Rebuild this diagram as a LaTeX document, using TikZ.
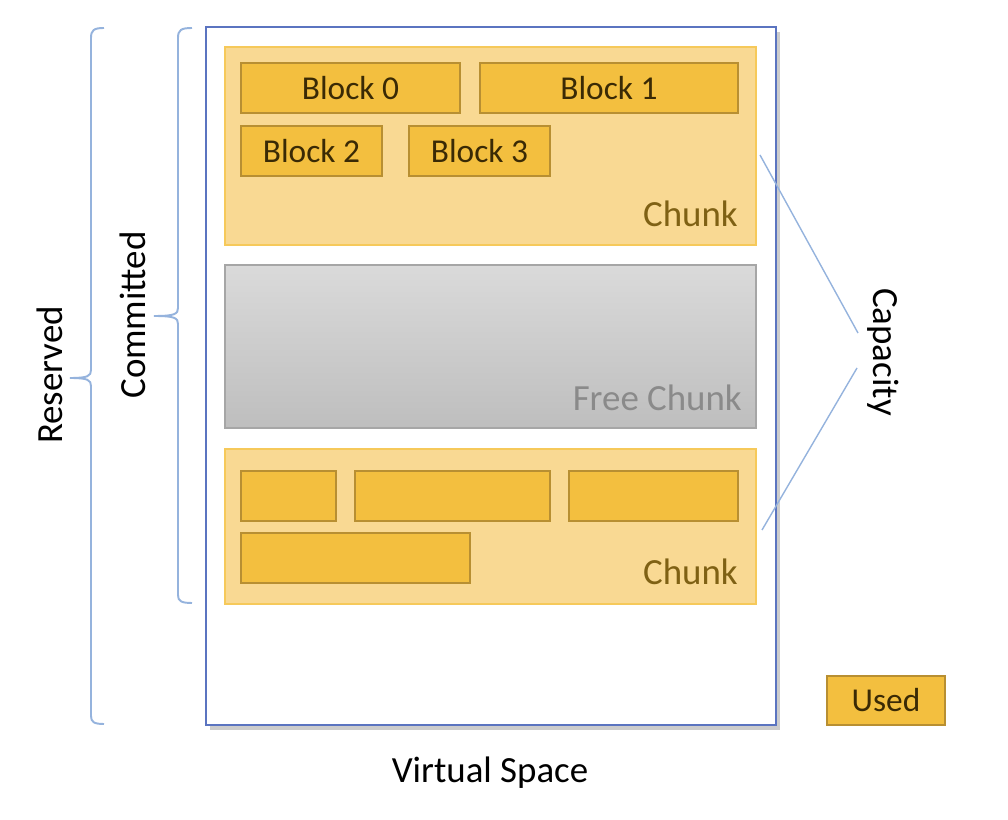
\documentclass[tikz,border=0pt]{standalone}
\usepackage{fontspec}
\setmainfont{Carlito}
\usepackage{tikz}
\usetikzlibrary{positioning}
\usetikzlibrary{shadows}
\definecolor{chunkfill}{HTML}{F9D993}
\definecolor{chunkline}{HTML}{F6C95A}
\definecolor{chunktext}{HTML}{7F6114}
\definecolor{blockfill}{HTML}{F3BF3F}
\definecolor{blockline}{HTML}{B88F32}
\definecolor{blocktext}{HTML}{3A2A05}
\definecolor{freetop}{HTML}{DADADA}
\definecolor{freebottom}{HTML}{BEBEBE}
\definecolor{freeline}{HTML}{A6A6A6}
\definecolor{freetext}{HTML}{8A8A8A}
\definecolor{vsline}{HTML}{5B74C0}
\definecolor{bracecol}{HTML}{95B3DD}
\tikzset{
  chunkbox/.style={draw=chunkline, fill=chunkfill, line width=0.8pt, inner sep=0pt, outer sep=0pt,
    minimum width=10.62cm},
  blockbox/.style={draw=blockline, fill=blockfill, line width=0.7pt, inner sep=0pt, outer sep=0pt,
    minimum height=1cm, text=blocktext, font=\fontsize{19}{22}\selectfont},
  chunklabel/.style={anchor=east, text=chunktext, font=\fontsize{21}{25}\selectfont},
  sidelabel/.style={font=\fontsize{21}{25}\selectfont},
  bracket/.style={draw=bracecol, line width=1.1pt},
}

\begin{document}
\begin{tikzpicture}[x=0.02cm, y=-0.02cm]
\useasboundingbox (0,0) rectangle (1008,820);

% ---------- Virtual space ----------
\node[draw=vsline, fill=white, line width=1.1pt, inner sep=0pt, outer sep=0pt,
  minimum width=11.4cm, minimum height=13.96cm,
  drop shadow={shadow xshift=2.5pt, shadow yshift=-3pt, opacity=0.4}] (vspace) at (491,376) {};
\node[sidelabel] (vslabel) at (490,773) {Virtual Space};

% ---------- Chunk 1 ----------
\node[chunkbox, minimum height=3.96cm] (chunk1) at (490.5,146) {};
\node[blockbox, minimum width=4.38cm] (block0) at (350.5,88) {Block 0};
\node[blockbox, minimum width=5.16cm] (block1) at (609,88) {Block 1};
\node[blockbox, minimum width=2.82cm] (block2) at (311.5,151) {Block 2};
\node[blockbox, minimum width=2.82cm] (block3) at (479.5,151) {Block 3};
\node[chunklabel] (chunk1label) at (744,214) {Chunk};

% ---------- Free chunk ----------
\node[draw=freeline, top color=freetop, bottom color=freebottom, line width=0.8pt,
  inner sep=0pt, outer sep=0pt, minimum width=10.62cm, minimum height=3.26cm] (free) at (490.5,346.5) {};
\node[chunklabel, text=freetext] (freelabel) at (748,398) {Free Chunk};

% ---------- Chunk 2 ----------
\node[chunkbox, minimum height=3.1cm] (chunk2) at (490.5,526.5) {};
\node[blockbox, minimum width=1.9cm] (block4) at (288.5,496) {};
\node[blockbox, minimum width=3.9cm] (block5) at (452.5,496) {};
\node[blockbox, minimum width=3.38cm] (block6) at (653.5,496) {};
\node[blockbox, minimum width=4.58cm] (block7) at (355.5,558) {};
\node[chunklabel] (chunk2label) at (744,572) {Chunk};

% ---------- Legend ----------
\node[blockbox, minimum width=2.36cm, minimum height=0.98cm] (used) at (886,700.5) {Used};

% ---------- Brackets ----------
\coordinate (restop) at (104,28);
\coordinate (resmid) at (70,378);
\coordinate (resbot) at (104,724);
\draw[bracket] (restop) .. controls (94,28) and (91,30) .. (91,38) -- (91,370)
  .. controls (91,376) and (88,378) .. (resmid);
\draw[bracket] (resmid) .. controls (88,378) and (91,380) .. (91,386) -- (91,716)
  .. controls (91,722) and (94,724) .. (resbot);
\node[sidelabel, rotate=90] (reserved) at (50,375) {Reserved};

\coordinate (comtop) at (192,28);
\coordinate (commid) at (154,316);
\coordinate (combot) at (192,603);
\draw[bracket] (comtop) .. controls (181,28) and (178,30) .. (178,38) -- (178,308)
  .. controls (178,314) and (175,316) .. (commid);
\draw[bracket] (commid) .. controls (175,316) and (178,318) .. (178,324) -- (178,595)
  .. controls (178,601) and (181,603) .. (combot);
\node[sidelabel, rotate=90] (committed) at (133,315) {Committed};

% ---------- Capacity ----------
\node[sidelabel, rotate=-90] (capacity) at (883,352) {Capacity};
\coordinate (capfrom1) at (760,155);
\coordinate (capto1) at (858,333);
\coordinate (capto2) at (857,368);
\coordinate (capfrom2) at (762,530);
\draw[draw=bracecol, line width=0.8pt] (capfrom1) -- (capto1);
\draw[draw=bracecol, line width=0.8pt] (capto2) -- (capfrom2);

\end{tikzpicture}
\end{document}
